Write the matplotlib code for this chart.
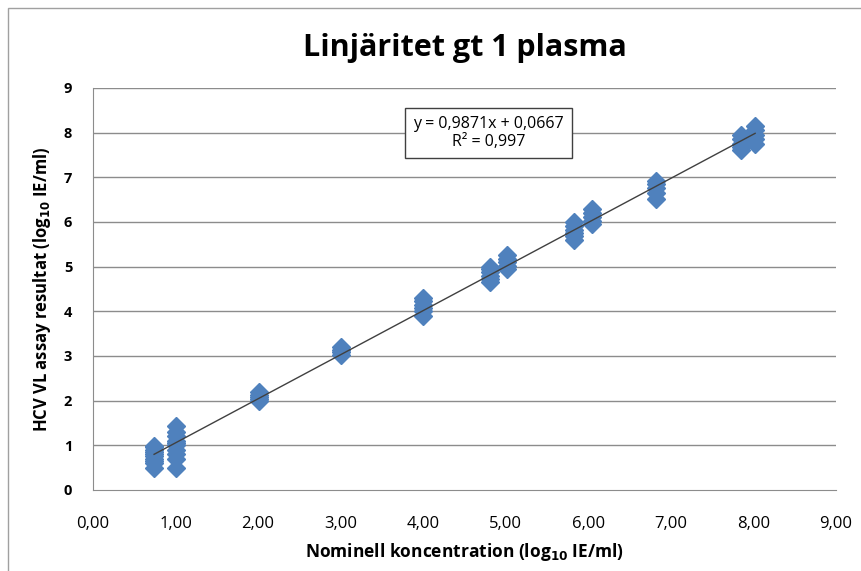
#!/usr/bin/env python3
# Linearity plot: HCV VL assay result vs nominal concentration, gt 1 plasma
import numpy as np
import matplotlib
matplotlib.use("Agg")
import matplotlib.pyplot as plt
from matplotlib.patches import Rectangle

# nominal levels (log10 IE/ml) and measured replicates at each level
levels = [0.74, 1.00, 2.01, 3.00, 4.00, 4.81, 5.02, 5.83, 6.05, 6.82, 7.85, 8.02]
replicates = [
    [0.50, 0.60, 0.65, 0.70, 0.75, 0.80, 0.85, 0.90, 0.95, 0.98],
    [0.50, 0.70, 0.80, 0.90, 1.00, 1.05, 1.10, 1.20, 1.30, 1.42],
    [1.98, 2.03, 2.08, 2.13, 2.20],
    [3.03, 3.08, 3.13, 3.20],
    [3.90, 4.00, 4.08, 4.15, 4.22, 4.30],
    [4.65, 4.72, 4.80, 4.87, 4.95, 5.00],
    [4.95, 5.02, 5.10, 5.18, 5.25],
    [5.60, 5.68, 5.75, 5.82, 5.90, 6.00],
    [5.95, 6.02, 6.10, 6.20, 6.30],
    [6.52, 6.65, 6.75, 6.85, 6.92],
    [7.60, 7.68, 7.75, 7.85, 7.95],
    [7.75, 7.85, 7.95, 8.05, 8.15],
]
slope, intercept = 0.9871, 0.0667
eq_text = "y = 0,9871x + 0,0667\nR² = 0,997"

x_ticks = np.arange(0, 10, 1)
x_labels = [f"{v:.2f}".replace(".", ",") for v in x_ticks]
y_ticks = np.arange(0, 10, 1)

xs = np.concatenate([[lv] * len(r) for lv, r in zip(levels, replicates)])
ys = np.concatenate(replicates)

plt.rcParams["font.family"] = ["Open Sans", "DejaVu Sans"]

fig = plt.figure(figsize=(8.61, 5.71), dpi=100)
ax = fig.add_axes([0.108, 0.142, 0.863, 0.704])

# outer chart border
fig.patches.append(Rectangle((8 / 861, -0.02), 1.0, 1 - 8 / 571 + 0.02,
                             transform=fig.transFigure, fill=False,
                             edgecolor="#a0a0a0", lw=1.0))

for y in y_ticks[1:]:
    ax.axhline(y, color="#8c8c8c", lw=1.0, zorder=0)

ax.plot(xs, ys, linestyle="none", marker="D", ms=9,
        color="#4f81bd", markeredgecolor="#4f81bd", zorder=2)

xfit = np.array([min(levels), max(levels)])
ax.plot(xfit, slope * xfit + intercept, color="#404040", lw=1.0, zorder=3)

ax.set_xlim(0, 9)
ax.set_ylim(0, 9)
ax.set_xticks(x_ticks)
ax.set_xticklabels(x_labels, fontsize=12)
ax.set_yticks(y_ticks)
ax.set_yticklabels([str(v) for v in y_ticks], fontsize=10.5, fontweight="bold")
ax.tick_params(axis="x", length=0, pad=19, colors="black")
ax.tick_params(axis="y", length=0, pad=15, colors="black")
for s in ("top", "right"):
    ax.spines[s].set_visible(False)
for s in ("left", "bottom"):
    ax.spines[s].set_color("#8c8c8c")

ax.set_title("Linjäritet gt 1 plasma", fontsize=22, fontweight="bold", pad=23)
ax.set_xlabel("Nominell koncentration (log$_{\\mathbf{10}}$ IE/ml)",
              fontsize=12.5, fontweight="bold", labelpad=6)
ax.set_ylabel("HCV VL assay resultat (log$_{\\mathbf{10}}$ IE/ml)",
              fontsize=12, fontweight="bold", labelpad=8)

ax.text(4.79, 7.99, eq_text, ha="center", va="center", fontsize=11.5,
        linespacing=1.15,
        bbox=dict(boxstyle="square,pad=0.5", facecolor="white",
                  edgecolor="#404040", lw=1.0), zorder=4)

fig.savefig("out.png", dpi=100)
